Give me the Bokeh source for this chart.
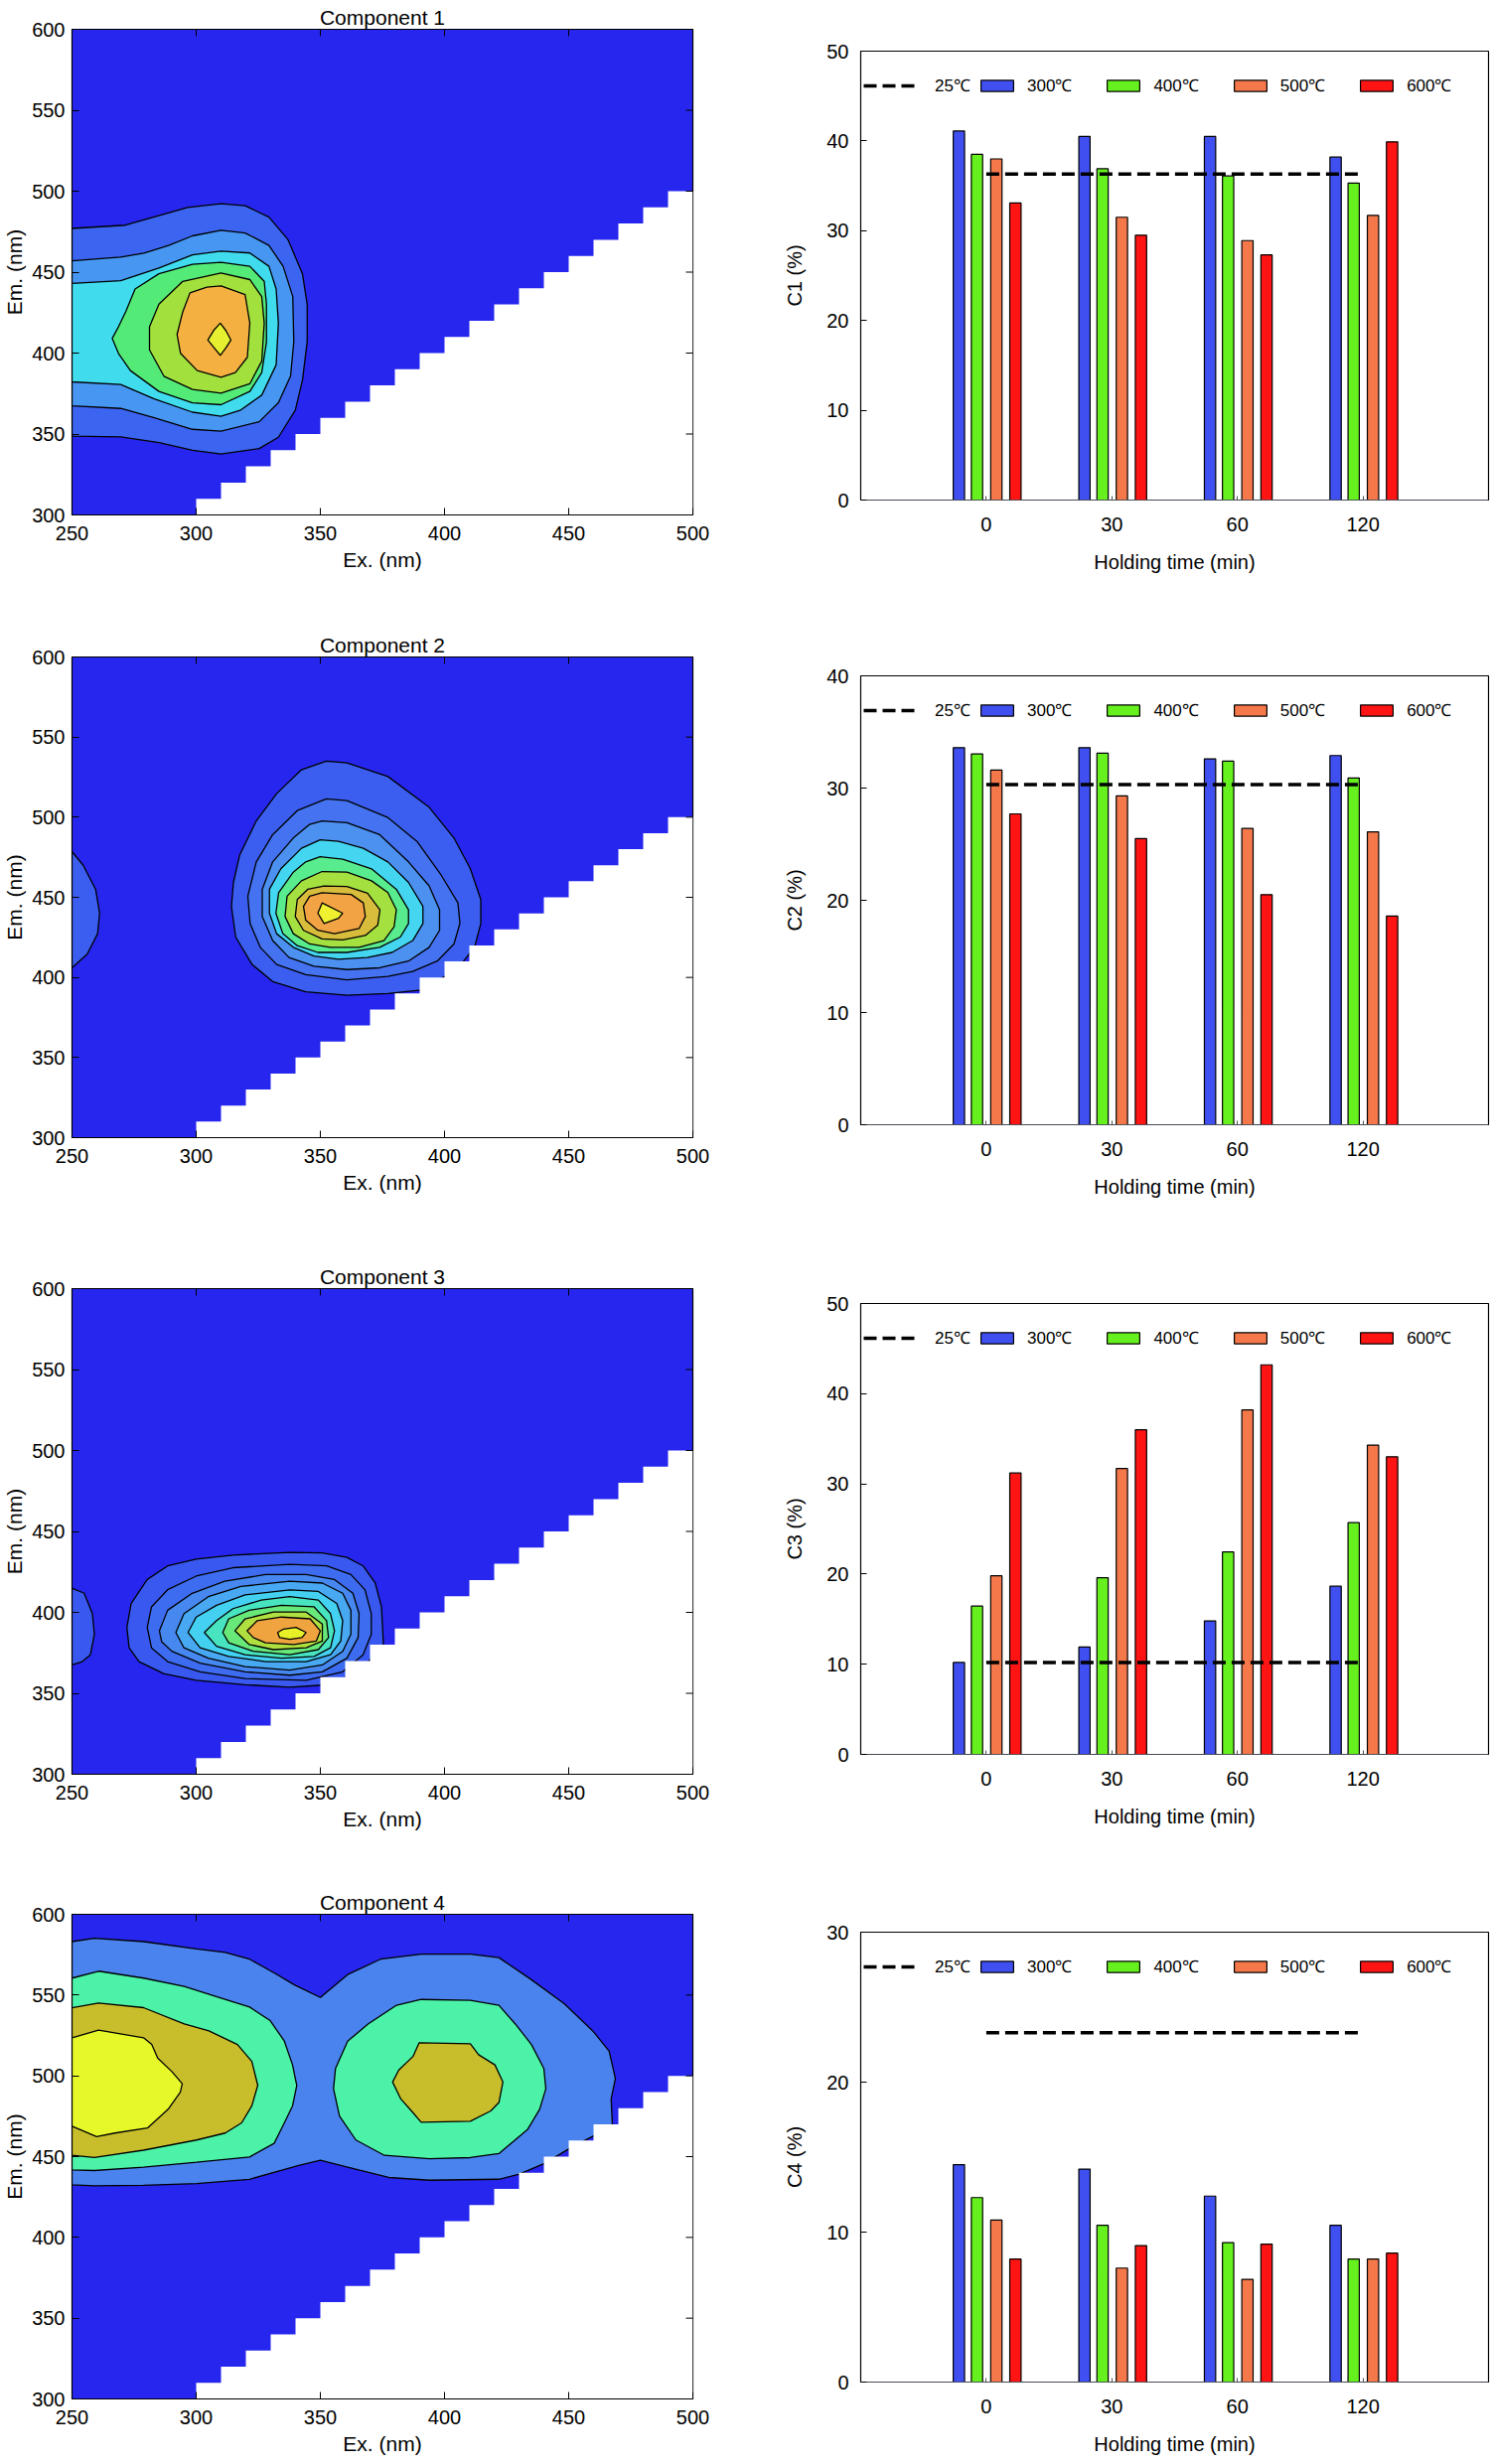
import math
from bokeh.plotting import figure
from bokeh.layouts import column, row
from bokeh.models import Legend, LegendItem, Range1d, FixedTicker
from bokeh.embed import file_html
from bokeh.resources import INLINE

FONT = "Liberation Sans"

# ---------------- EEM component contours (Ex, Em in nm) ----------------
BG = "#2626EE"

# Rayleigh-scatter masked staircase (white): each step spans [left, right] in Ex, white below top in Em
stair_left = [300, 310, 320, 330, 340, 350, 360, 370, 380, 390, 400, 410, 420, 430, 440, 450, 460, 470, 480, 490]
stair_right = [310, 320, 330, 340, 350, 360, 370, 380, 390, 400, 410, 420, 430, 440, 450, 460, 470, 480, 490, 500]
stair_top = [310, 320, 330, 340, 350, 360, 370, 380, 390, 400, 410, 420, 430, 440, 450, 460, 470, 480, 490, 500]

c1_ex = [
    [250, 271.5, 296.6, 310, 319.7, 329.3, 337, 342.8, 344.7, 344.7, 342.8, 339.9, 333.1, 325.4, 310, 298.5, 285, 269.6, 250],
    [250, 269.6, 279, 288.9, 298.5, 310, 319.7, 329.3, 335, 338.9, 339.3, 338, 333.1, 325.4, 310, 298.5, 283.1, 269.6, 250],
    [250, 269.6, 285, 298.5, 310, 321.6, 329.3, 332.2, 333.1, 332.2, 326.4, 317.7, 310, 298.5, 283.1, 269.6, 250],
    [310, 321.6, 327.4, 328.3, 328.3, 326.4, 321.6, 310, 298.5, 285, 273.5, 268.7, 266.2, 268.7, 271.6, 275.4, 285, 298.5],
    [310, 321.6, 326.4, 327.4, 326.4, 321.6, 310, 298.5, 287, 281.2, 281.2, 285, 294.6],
    [310, 319.7, 321.6, 320.6, 315.8, 310, 300.4, 293.7, 292.3, 294.6, 297.5, 304.3],
    [309.7, 312, 314, 312, 309.7, 307.2, 304.7, 307.2],
]
c1_em = [
    [477, 479, 490, 492.3, 491, 484, 470, 449, 430, 407, 383.4, 364.6, 348, 341, 337.7, 340, 344.7, 348.2, 348.7],
    [457, 459.3, 461.8, 466.5, 472.4, 475.9, 474.2, 466.5, 453.6, 434.9, 406.8, 385.7, 369.3, 357.6, 351.8, 352.9, 360, 365.8, 367.4],
    [443, 444.7, 452.5, 460.7, 463, 461.8, 453.6, 439.6, 418.5, 392.7, 374, 364.6, 361, 363.5, 371.7, 380.6, 382.2],
    [456, 453.6, 444.3, 430.2, 406.8, 388, 376.3, 368.1, 369.3, 376.3, 389.2, 399.8, 409.1, 416.2, 425.5, 439.6, 449, 454.8],
    [449.4, 445.4, 434.9, 418.5, 395, 381, 375.2, 377.5, 385.7, 402, 416.2, 430.2, 444.3],
    [441.5, 436.1, 418.5, 397.4, 388, 385, 389.2, 399.8, 411.5, 425.5, 437.2, 440.7],
    [418.5, 413.8, 408, 403.3, 398.6, 403.3, 408, 414.3],
]
c1_colors = ["#3B64F0", "#4696F2", "#40DCEE", "#54EA78", "#A2E03E", "#F4B040", "#E6F030"]

c2_ex = [
    [250, 254.5, 259.5, 261.1, 260.3, 256.1, 250],
    [352.4, 360.7, 377.2, 393.8, 403.8, 410.4, 414.6, 414.6, 412.1, 405, 390.5, 377.2, 360.7, 344.1, 330.8, 322.5, 315.9, 314.2, 315, 317.5, 324.2, 332.4, 342.4],
    [352.4, 360.7, 377.2, 388.9, 398.8, 405.4, 406.2, 403.8, 397.1, 387.2, 377.2, 360.7, 344.1, 332.4, 325.8, 321.7, 320.8, 324.2, 330.8, 340.7],
    [350.7, 360.7, 373.9, 385.5, 393.8, 398, 398, 393.8, 385.5, 373.9, 360.7, 347.4, 337.4, 330.8, 326.6, 326.6, 330.8, 339.1, 345.7],
    [349.9, 357.3, 367.3, 377.2, 385.5, 391.3, 391.3, 387.2, 378.9, 368.9, 357.3, 347.4, 339.1, 332.4, 329.5, 329.5, 334.1, 342.4],
    [349.9, 359, 370.6, 380.6, 385.5, 385.5, 382.2, 373.9, 360.7, 349, 340.7, 334.9, 332.1, 333.2, 339.1, 344.1],
    [350.7, 360.7, 370.6, 377.2, 380.6, 379.7, 375.6, 365.6, 354, 345.7, 339.1, 335.8, 336.6, 342.4],
    [351.5, 360.7, 369, 374, 373.1, 368.1, 359, 350.7, 343.2, 339.9, 340.7, 344.9],
    [350.7, 362.4, 367.3, 368.1, 365.6, 355.7, 349, 344.1, 343.2, 345.7],
    [350.7, 359, 357.3, 351.5, 349],
]
c2_em = [
    [478.5, 470, 455, 440.1, 427.3, 414.5, 406],
    [535, 533.9, 525.4, 506.2, 487, 467.8, 448.6, 433.7, 418.8, 405, 392.1, 390, 388.9, 391, 397.4, 408.1, 425.2, 444.3, 459.3, 476.3, 497.7, 514.7, 529.6],
    [511.5, 510.4, 499.8, 484.9, 463.5, 446.5, 433.7, 420.9, 410.2, 403.8, 400.6, 398.5, 401.7, 408.1, 418.8, 433.7, 450.7, 472.1, 489.1, 504.1],
    [497.7, 496.6, 489.1, 472.1, 457.1, 442.2, 429.4, 418.8, 410.2, 406, 404.9, 407, 412.4, 423, 438, 455, 472.1, 487, 495.5],
    [485.9, 484.9, 480.6, 472.1, 459.3, 444.3, 433.7, 423, 415.6, 412.4, 411.3, 413.4, 418.8, 427.3, 440.1, 455, 467.8, 480.6],
    [475.3, 473.8, 467.8, 455, 442.2, 433.7, 425.2, 418.8, 415.6, 415.6, 419.8, 427.3, 440.1, 452.9, 465.7, 472.1],
    [466.1, 465.7, 460.3, 452.9, 442.2, 431.6, 423, 418.8, 418.8, 420.9, 427.3, 438, 450.7, 460.3],
    [457.1, 456.7, 452.5, 442.2, 432.6, 426.2, 423.4, 424.1, 429.4, 438, 448.6, 455],
    [452.9, 451.8, 446.5, 438, 430.5, 427.3, 429.4, 435.8, 444.3, 450.7],
    [446.5, 440.1, 436.9, 433.7, 440.1],
]
c2_colors = ["#3B5EF0", "#3B5EF0", "#4472F0", "#4C90F0", "#44D6F0", "#58EC8E", "#A4E040", "#D8BC3C", "#F2A444", "#EEF030"]

c3_ex = [
    [250, 254.9, 258.2, 259, 257.4, 254.1, 250],
    [272.1, 273.8, 280.3, 288.5, 300, 314.8, 337.7, 350.8, 360.7, 367.2, 372.1, 374.6, 375.4, 365, 349.2, 337.7, 319.7, 300, 286.9, 277, 273],
    [280.3, 282, 288.5, 300, 314.8, 337.7, 352.5, 362.3, 368, 370.5, 370.5, 367.2, 359, 344.3, 319.7, 301.6, 288.5, 282],
    [285.2, 288.5, 298.4, 311.5, 327.9, 344.3, 355.7, 363.1, 365.6, 365.2, 360.7, 350.8, 337.7, 319.7, 301.6, 290.2, 286.1],
    [291.8, 295.1, 304.9, 318, 337.7, 350.8, 359, 362.3, 362.3, 359, 350.8, 337.7, 319.7, 304.9, 295.1],
    [296.7, 300, 308.2, 319.7, 337.7, 349.2, 356.6, 359, 358.2, 354.1, 344.3, 327.9, 313.1, 301.6],
    [303.3, 308.2, 314.8, 326.2, 337.7, 349.2, 354.1, 355.7, 354.1, 347.5, 334.4, 319.7, 308.2],
    [310.7, 313.1, 321.3, 334.4, 347.5, 352.5, 353.3, 349.2, 337.7, 322.9, 313.1],
    [315.6, 319.7, 331.1, 344.3, 350.8, 350.8, 344.3, 331.1, 321.3],
    [320.5, 324.6, 334.4, 345.9, 350, 348.4, 339.3, 327.9, 323],
    [332.8, 335.2, 340.2, 344.3, 342.6, 337.7, 333.6],
]
c3_em = [
    [415, 411.8, 399.2, 386.5, 373.8, 369.6, 367.5],
    [390.7, 405.5, 420.3, 428.7, 432.9, 435.4, 437.1, 436.7, 434, 428.7, 418.1, 403.4, 380.2, 362, 354.9, 353.8, 355.3, 358, 362.2, 369.6, 378.1],
    [390.7, 403.4, 414, 422.4, 427.6, 429.7, 428.7, 423.4, 413.9, 399.2, 386.5, 373.8, 363.3, 358, 359.1, 363.3, 369.6, 378.1],
    [388.6, 401.3, 411.8, 419.2, 423.4, 423.4, 420.3, 411.8, 399.2, 384.4, 371.7, 363.3, 361.2, 363.3, 368.6, 376, 381.9],
    [387.6, 399.2, 409.7, 416, 419.2, 418.1, 411.8, 401.3, 386.5, 375.9, 367.5, 364.4, 366.5, 371.7, 378.1],
    [387.6, 397.1, 404.4, 410.8, 413.9, 412.9, 405.5, 394.9, 382.3, 373.8, 369.6, 369.6, 372.8, 378.1],
    [387.6, 394.9, 402.3, 407.6, 409.7, 407.6, 399.2, 388.6, 378.1, 372.8, 371.7, 373.8, 379.1],
    [387.6, 396, 401.3, 404.4, 403.4, 394.9, 384.4, 377, 373.8, 376, 381.2],
    [388.6, 396, 400.2, 400.2, 392.8, 382.3, 378.1, 377, 380.2],
    [388.6, 394.9, 397.1, 396, 388.6, 382.3, 380.2, 381.2, 384.4],
    [387.6, 389.7, 390.7, 387.6, 384.4, 383.3, 384.4],
]
c3_colors = ["#3858F0", "#3858F0", "#3E6CF0", "#4688F0", "#48A8F2", "#44D0F0", "#48E4C0", "#68E878", "#B0E040", "#F0A440", "#E8F028"]

c4_ex = [
    [250, 259, 278.8, 300.2, 311.7, 321.5, 331.4, 339.6, 350, 361, 374.2, 390.6, 410.4, 421.9, 435, 448.2, 459.7, 466.3, 468.8, 467.1, 467.6, 451.5, 440, 430.1, 421.9, 393.9, 377.5, 361, 350, 341.3, 321.5, 300.2, 278.8, 259, 250],
    [250, 260.7, 278.8, 295.2, 308.4, 321.5, 329.8, 335.5, 338.8, 340.5, 338.8, 335.5, 331.4, 321.5, 300.2, 278.8, 259, 250],
    [390.6, 410.4, 421.9, 428.5, 435, 440, 440.8, 438.3, 433.4, 421.9, 410.4, 393.9, 375.8, 364.3, 357.7, 355.3, 356.1, 361, 369.2, 380.7],
    [250, 260.7, 278.8, 295.2, 305.1, 316.6, 322.4, 324.8, 322.4, 318.3, 311.7, 300.2, 278.8, 259, 250],
    [389.8, 410.4, 413.7, 420.3, 423.5, 421.9, 418.6, 410.4, 390.6, 387.3, 382.4, 379.1, 381.6, 387.3],
    [250, 260.7, 278.8, 282.1, 284.5, 290.3, 294.4, 293.6, 288.7, 280.4, 267.3, 259.9, 250],
]
c4_em = [
    [583.1, 585.2, 583.1, 578.5, 576.4, 572.2, 563.7, 556.3, 548.5, 562.7, 572.2, 575.3, 575.3, 573.2, 559.5, 544.7, 527.8, 515.2, 498.3, 485.7, 468.8, 456.1, 445.6, 439.2, 436, 435.4, 437.1, 443.5, 447.7, 444.5, 436, 433.3, 432.3, 431.9, 432.5],
    [560.5, 564.8, 560.5, 555.3, 548.9, 542.6, 534.2, 521.5, 506.8, 494.1, 481.4, 470.9, 458.2, 449.8, 446.6, 443.5, 441.4, 441.8],
    [547.3, 546.8, 543.7, 532.1, 519.4, 504.6, 492, 479.3, 466.7, 451.9, 449.4, 448.7, 450.8, 460.3, 475.1, 492, 504.6, 521.5, 532.1, 543.7],
    [542.2, 545.1, 542.2, 532.1, 527.8, 519.4, 508.9, 494.1, 481.4, 470.9, 464.6, 460.3, 454, 449.4, 450.8],
    [520.5, 519.8, 513.1, 506.8, 496.2, 483.5, 478.3, 471.9, 471.3, 477.2, 485.7, 496.2, 503.6, 512],
    [523.6, 528.3, 523.6, 519.4, 511, 502.5, 495.1, 489.9, 479.3, 467.7, 464.6, 462.4, 468.8],
]
c4_colors = ["#4A82EE", "#4CF2A8", "#4CF2A8", "#C8BE2C", "#C8BE2C", "#E6F82A"]

ex_ticks = [250, 300, 350, 400, 450, 500]
em_ticks = [300, 350, 400, 450, 500, 550, 600]

# ---------------- Component percentages vs holding time ----------------
holding = ["0", "30", "60", "120"]
temps = ["300℃", "400℃", "500℃", "600℃"]
bar_colors = ["#4050F0", "#66F01E", "#F5784A", "#FF1414"]

c1_300 = [41.1, 40.5, 40.5, 38.2]
c1_400 = [38.5, 36.9, 36.1, 35.3]
c1_500 = [38.0, 31.5, 28.9, 31.7]
c1_600 = [33.1, 29.5, 27.3, 39.9]
c1_25 = 36.3

c2_300 = [33.6, 33.6, 32.6, 32.9]
c2_400 = [33.05, 33.1, 32.4, 30.9]
c2_500 = [31.6, 29.3, 26.4, 26.1]
c2_600 = [27.7, 25.5, 20.5, 18.6]
c2_25 = 30.3

c3_300 = [10.2, 11.9, 14.8, 18.65]
c3_400 = [16.45, 19.6, 22.45, 25.7]
c3_500 = [19.8, 31.7, 38.2, 34.3]
c3_600 = [31.2, 36.0, 43.2, 33.0]
c3_25 = 10.2

c4_300 = [14.5, 14.2, 12.4, 10.45]
c4_400 = [12.3, 10.45, 9.3, 8.2]
c4_500 = [10.8, 7.6, 6.85, 8.2]
c4_600 = [8.2, 9.1, 9.2, 8.6]
c4_25 = 23.3


def stair_outline():
    xs, ys = [stair_left[0]], [300]
    for l, r, t in zip(stair_left, stair_right, stair_top):
        xs += [l, r]
        ys += [t, t]
    xs.append(stair_right[-1])
    ys.append(300)
    return xs, ys


def contour_fig(title, exs, ems, cols, top, fh, bottom):
    p = figure(width=720, height=top + fh + bottom,
               x_range=Range1d(250, 500), y_range=Range1d(300, 600),
               min_border_left=72, min_border_right=23,
               min_border_top=top, min_border_bottom=bottom,
               output_backend="svg", toolbar_location=None, tools="")
    p.title.text = title
    p.title.align = "center"
    p.title.text_font = FONT
    p.title.text_font_size = "21px"
    p.title.text_font_style = "normal"
    p.title.text_color = "black"
    p.title.standoff = 2
    p.background_fill_color = BG
    p.border_fill_color = "white"
    p.outline_line_color = "black"
    p.outline_line_width = 1.2
    p.grid.visible = False
    p.patches(exs, ems, fill_color=cols, line_color="black", line_width=1.3)
    sx, sy = stair_outline()
    p.patch(sx, sy, fill_color="white", line_color=None)
    # inward tick marks on the right and top edges (half of each dash is clipped by the frame)
    p.scatter(x=[500] * len(em_ticks), y=em_ticks, marker="dash", size=14,
              line_color="black", line_width=1)
    p.scatter(x=ex_ticks, y=[600] * len(ex_ticks), marker="dash", size=14,
              angle=math.pi / 2, line_color="black", line_width=1)
    p.xaxis.ticker = FixedTicker(ticks=ex_ticks)
    p.yaxis.ticker = FixedTicker(ticks=em_ticks)
    p.xaxis.axis_label = "Ex. (nm)"
    p.yaxis.axis_label = "Em. (nm)"
    for ax in (p.xaxis, p.yaxis):
        ax.major_label_text_font = FONT
        ax.major_label_text_font_size = "20px"
        ax.major_label_text_color = "black"
        ax.axis_label_text_font = FONT
        ax.axis_label_text_font_size = "21px"
        ax.axis_label_text_font_style = "normal"
        ax.axis_label_text_color = "black"
        ax.major_tick_in = 7
        ax.major_tick_out = 0
        ax.minor_tick_line_color = None
        ax.axis_line_color = "black"
        ax.major_tick_line_color = "black"
    p.xaxis.major_label_standoff = 11
    p.xaxis.axis_label_standoff = 5
    p.yaxis.major_label_standoff = 7
    p.yaxis.axis_label_standoff = 3
    return p


def bar_fig(series, base, ymax, ylabel, top, fh, bottom):
    p = figure(width=780, height=top + fh + bottom,
               x_range=Range1d(0, 5), y_range=Range1d(0, ymax),
               min_border_left=146, min_border_right=2,
               min_border_top=top, min_border_bottom=bottom,
               output_backend="svg", toolbar_location=None, tools="")
    p.background_fill_color = "white"
    p.outline_line_color = "black"
    p.outline_line_width = 1.2
    p.grid.visible = False
    pos = [1, 2, 3, 4]
    offsets = [-0.218, -0.074, 0.080, 0.232]
    rs = []
    for vals, off, col in zip(series, offsets, bar_colors):
        r = p.vbar(x=[x + off for x in pos], top=vals, bottom=0, width=0.09,
                   fill_color=col, line_color="black", line_width=1.2)
        rs.append(r)
    rl = p.line([pos[0], pos[-1]], [base, base], line_color="black",
                line_width=3.5, line_dash="13 6")
    p.xaxis.ticker = FixedTicker(ticks=pos)
    p.xaxis.major_label_overrides = {x: lab for x, lab in zip(pos, holding)}
    p.yaxis.ticker = FixedTicker(ticks=list(range(0, ymax + 1, 10)))
    p.xaxis.axis_label = "Holding time (min)"
    p.yaxis.axis_label = ylabel
    for ax in (p.xaxis, p.yaxis):
        ax.major_label_text_font = FONT
        ax.major_label_text_font_size = "20px"
        ax.major_label_text_color = "black"
        ax.axis_label_text_font = FONT
        ax.axis_label_text_font_size = "20px"
        ax.axis_label_text_font_style = "normal"
        ax.axis_label_text_color = "black"
        ax.major_tick_out = 0
        ax.minor_tick_line_color = None
    p.yaxis.major_tick_in = 6
    p.yaxis.axis_line_color = "black"
    p.xaxis.major_tick_in = 4
    p.xaxis.axis_line_color = "#8C96A8"
    p.xaxis.axis_line_dash = "1 1"
    p.xaxis.major_tick_line_color = "#505050"
    p.xaxis.major_label_standoff = 17
    p.xaxis.axis_label_standoff = 17
    p.yaxis.major_label_standoff = 12
    p.yaxis.axis_label_standoff = 18

    ly = fh - 46
    common = dict(orientation="horizontal", padding=0, margin=0,
                  border_line_color=None, background_fill_alpha=0,
                  label_text_font=FONT, label_text_font_size="17px",
                  label_text_color="black",
                  glyph_height=14, label_height=20)
    leg1 = Legend(items=[LegendItem(label="25℃", renderers=[rl])],
                  location=(3, ly), glyph_width=52, label_standoff=20,
                  spacing=0, **common)
    leg2 = Legend(items=[LegendItem(label=t, renderers=[r]) for t, r in zip(temps, rs)],
                  location=(117, ly), glyph_width=41, label_standoff=10,
                  spacing=31, **common)
    p.add_layout(leg1)
    p.add_layout(leg2)
    return p


k1 = contour_fig("Component 1", c1_ex, c1_em, c1_colors, 29, 489, 114)
k2 = contour_fig("Component 2", c2_ex, c2_em, c2_colors, 29, 484, 123)
k3 = contour_fig("Component 3", c3_ex, c3_em, c3_colors, 29, 489, 112)
k4 = contour_fig("Component 4", c4_ex, c4_em, c4_colors, 29, 488, 63)

b1 = bar_fig([c1_300, c1_400, c1_500, c1_600], c1_25, 50, "C1 (%)", 51, 452, 133)
b2 = bar_fig([c2_300, c2_400, c2_500, c2_600], c2_25, 40, "C2 (%)", 44, 452, 136)
b3 = bar_fig([c3_300, c3_400, c3_500, c3_600], c3_25, 50, "C3 (%)", 44, 454, 135)
b4 = bar_fig([c4_300, c4_400, c4_500, c4_600], c4_25, 30, "C4 (%)", 44, 453, 80)

layout = row(column(k1, k2, k3, k4), column(b1, b2, b3, b4))

open("out.html", "w").write(file_html(layout, INLINE))
